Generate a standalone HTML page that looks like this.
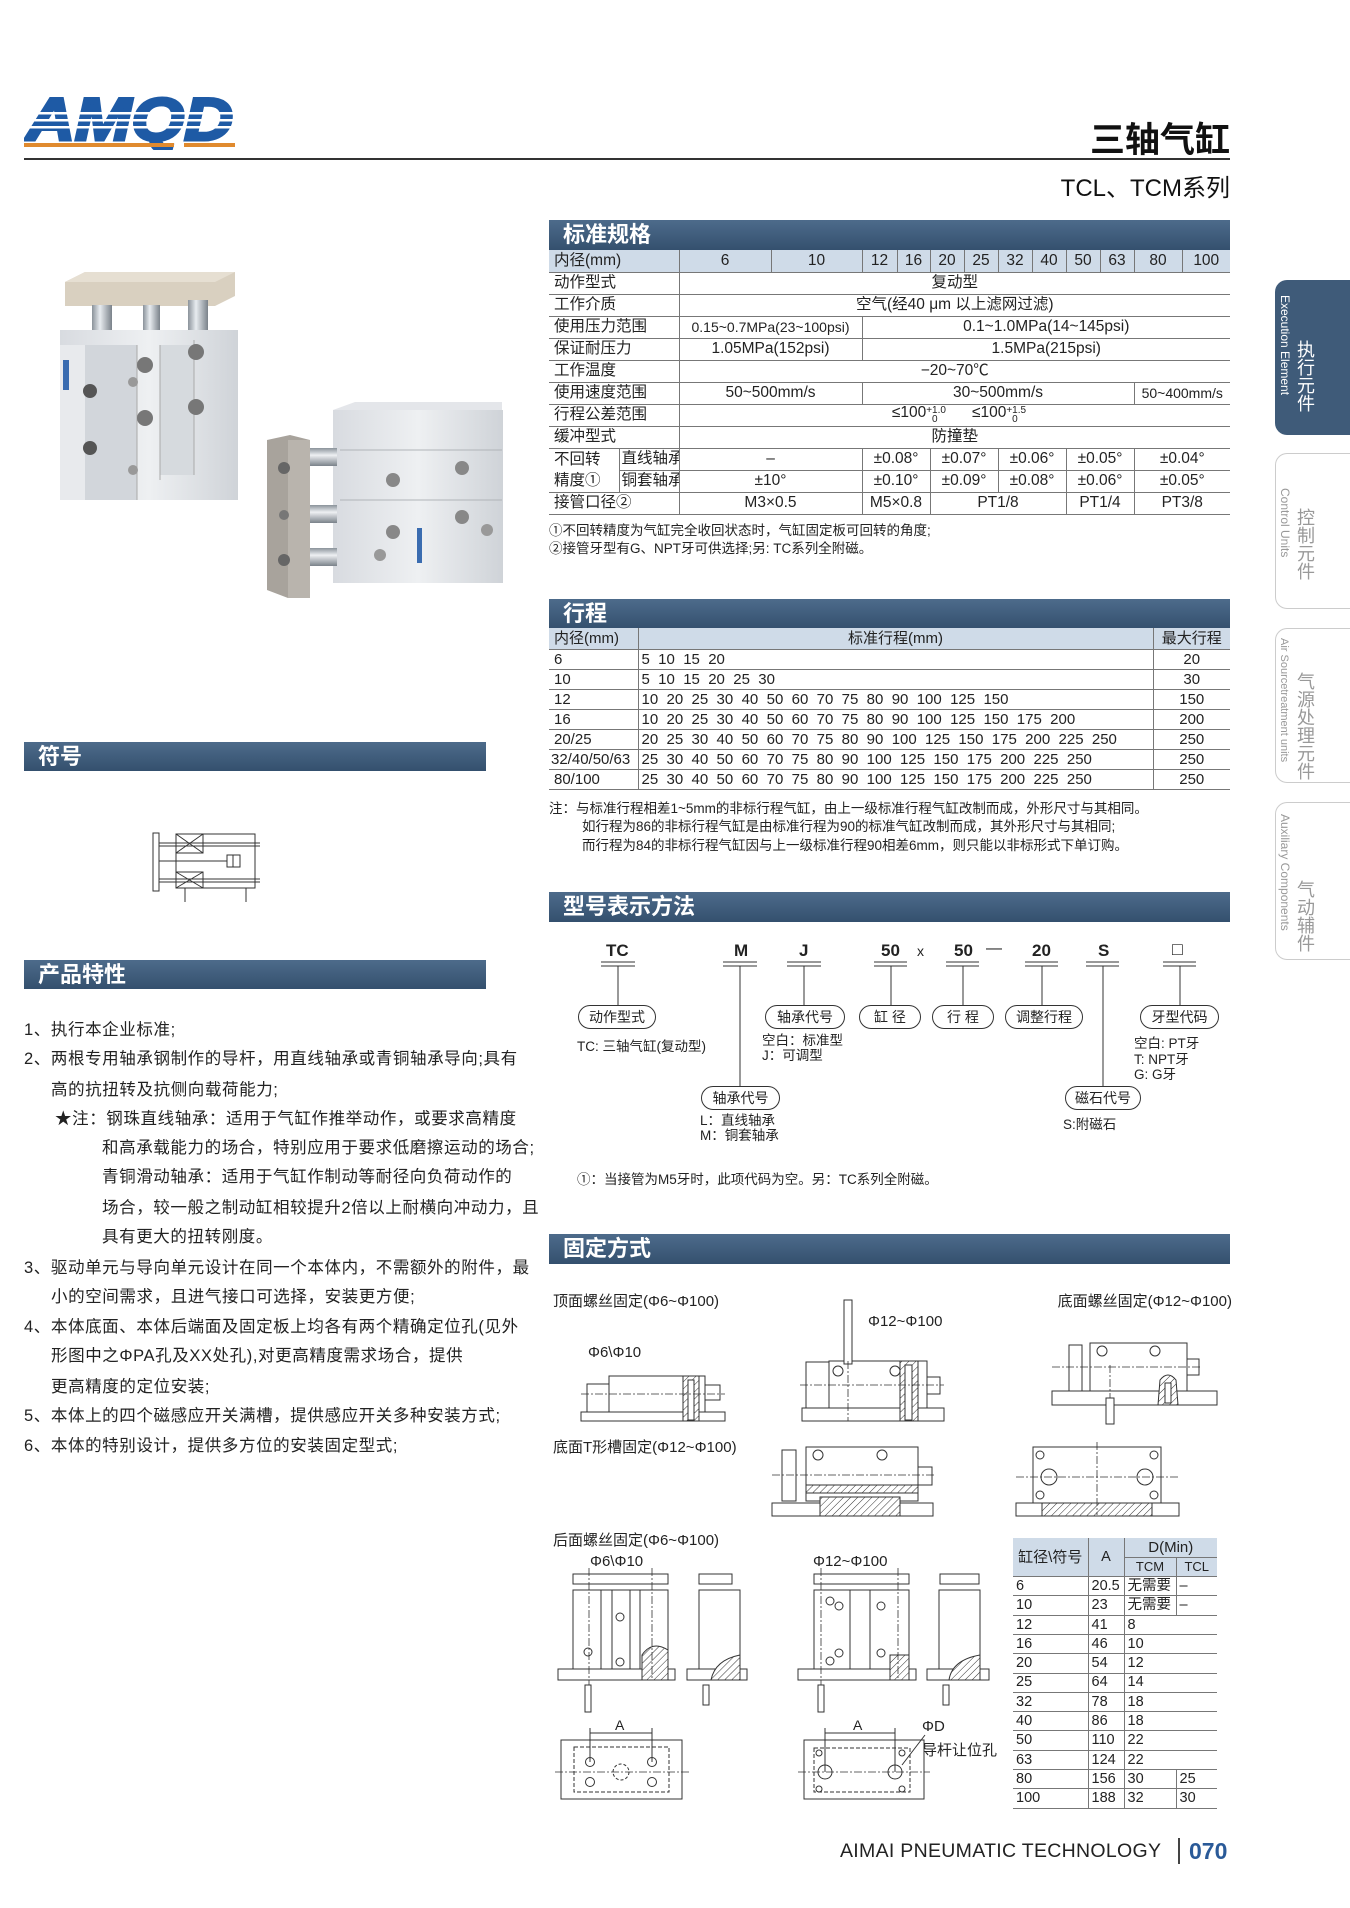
<!DOCTYPE html>
<html><head><meta charset="utf-8">
<style>
*{margin:0;padding:0;box-sizing:border-box}
body{width:1350px;height:1908px;background:#fff;position:relative;overflow:hidden;font-family:"Liberation Sans","Noto Sans CJK SC",sans-serif;color:#222}
.a{position:absolute;white-space:nowrap}
.bar{position:absolute;height:30px;background:linear-gradient(#4d6b8b,#34506e);color:#fff;font-weight:bold;font-size:22px;line-height:30px;padding-left:14px}
table{border-collapse:collapse;table-layout:fixed;position:absolute}
td{border-bottom:1px solid #777;border-left:1px solid #777;text-align:center;font-size:15.5px;padding:0;overflow:hidden;white-space:nowrap;line-height:1}
td.l{text-align:left;padding-left:5px;border-left:none}
tr.h td{background:#cfdbe8}
.t2 td{font-size:15px}
.t2 td.s{text-align:left;padding-left:3px}
.bub{position:absolute;height:24px;border:1px solid #333;border-radius:12px;font-size:14px;line-height:22px;text-align:center;background:#fff}
.ft{font-size:16.5px;letter-spacing:0.6px}
.sm{font-size:13.5px}
.tab{position:absolute;left:1275px;width:80px;border-radius:12px 0 0 12px}
.fx td{font-size:14.5px;height:19.3px;text-align:left;padding-left:3px;border-bottom:1px solid #777;border-left:1px solid #777}
.fx td.l{border-left:none}
.fx tr.h td{text-align:center;padding-left:0}
</style></head><body>

<svg class="a" style="left:24px;top:92px" width="215" height="58">
<text x="2" y="48" font-family="Liberation Sans" font-weight="bold" font-style="italic" font-size="60" fill="#1e5aa5" stroke="#1e5aa5" stroke-width="3" textLength="207" lengthAdjust="spacingAndGlyphs">AMQD</text>
<rect x="0" y="20" width="215" height="2.5" fill="#fff"/><rect x="0" y="27" width="215" height="2.5" fill="#fff"/><rect x="0" y="34" width="215" height="2.5" fill="#fff"/>
<rect x="0" y="51" width="150" height="4" fill="#e08a2e"/><rect x="160" y="51" width="51" height="4" fill="#e08a2e"/>
</svg>
<div class="a" style="left:24px;top:158px;width:1206px;height:2px;background:#333"></div>
<div class="a" style="right:120px;top:112px;font-size:35px;font-weight:bold;color:#111">三轴气缸</div>
<div class="a" style="right:120px;top:168px;font-size:24px;color:#111">TCL、TCM系列</div>

<div class="tab" style="top:280px;height:155px;background:#3f5b79"></div>
<div class="tab" style="top:453px;height:156px;border:1px solid #ccc;border-right:none"></div>
<div class="tab" style="top:628px;height:155px;border:1px solid #ccc;border-right:none"></div>
<div class="tab" style="top:802px;height:158px;border:1px solid #ccc;border-right:none"></div>
<div class="a" style="left:1278px;top:295px;writing-mode:vertical-rl;font-size:12px;color:#fff">Execution Element</div>
<div class="a" style="left:1295px;top:340px;writing-mode:vertical-rl;font-size:18px;color:#fff;line-height:20px">执行元件</div>
<div class="a" style="left:1278px;top:488px;writing-mode:vertical-rl;font-size:12px;color:#999">Control Units</div>
<div class="a" style="left:1295px;top:508px;writing-mode:vertical-rl;font-size:18px;color:#999;line-height:20px">控制元件</div>
<div class="a" style="left:1278px;top:638px;writing-mode:vertical-rl;font-size:11px;color:#999">Air Sourcetreatment units</div>
<div class="a" style="left:1295px;top:672px;writing-mode:vertical-rl;font-size:18px;color:#999;line-height:20px">气源处理元件</div>
<div class="a" style="left:1278px;top:814px;writing-mode:vertical-rl;font-size:12px;color:#999">Auxiliary Components</div>
<div class="a" style="left:1295px;top:880px;writing-mode:vertical-rl;font-size:18px;color:#999;line-height:20px">气动辅件</div>

<div class="bar" style="left:549px;top:220px;width:681px">标准规格</div>
<table style="left:549px;top:250px;width:681px">
<colgroup><col style="width:70px"><col style="width:60px"><col style="width:92px"><col style="width:91px"><col style="width:35px"><col style="width:33px"><col style="width:34px"><col style="width:34px"><col style="width:34px"><col style="width:34px"><col style="width:34px"><col style="width:34px"><col style="width:48px"><col style="width:48px"></colgroup>
<tr class="h" style="height:22px"><td class="l" colspan="2">内径(mm)</td><td>6</td><td>10</td><td>12</td><td>16</td><td>20</td><td>25</td><td>32</td><td>40</td><td>50</td><td>63</td><td>80</td><td>100</td></tr>
<tr style="height:22px"><td class="l" colspan="2">动作型式</td><td colspan="12">复动型</td></tr>
<tr style="height:22px"><td class="l" colspan="2">工作介质</td><td colspan="12">空气(经40 μm 以上滤网过滤)</td></tr>
<tr style="height:22px"><td class="l" colspan="2">使用压力范围</td><td colspan="2" style="font-size:14px">0.15~0.7MPa(23~100psi)</td><td colspan="10">0.1~1.0MPa(14~145psi)</td></tr>
<tr style="height:22px"><td class="l" colspan="2">保证耐压力</td><td colspan="2">1.05MPa(152psi)</td><td colspan="10">1.5MPa(215psi)</td></tr>
<tr style="height:22px"><td class="l" colspan="2">工作温度</td><td colspan="12">−20~70℃</td></tr>
<tr style="height:22px"><td class="l" colspan="2">使用速度范围</td><td colspan="2">50~500mm/s</td><td colspan="8">30~500mm/s</td><td colspan="2" style="font-size:14px">50~400mm/s</td></tr>
<tr style="height:22px"><td class="l" colspan="2">行程公差范围</td><td colspan="12">≤100<span style="font-size:10px;vertical-align:4px">+1.0</span><span style="font-size:10px;margin-left:-14px;vertical-align:-5px">0</span>&nbsp;&nbsp;&nbsp;&nbsp;&nbsp;&nbsp;&nbsp;&nbsp;≤100<span style="font-size:10px;vertical-align:4px">+1.5</span><span style="font-size:10px;margin-left:-14px;vertical-align:-5px">0</span></td></tr>
<tr style="height:22px"><td class="l" colspan="2">缓冲型式</td><td colspan="12">防撞垫</td></tr>
<tr style="height:22px"><td class="l" style="border-bottom:none">不回转</td><td class="l" style="border-left:1px solid #777;padding-left:2px">直线轴承</td><td colspan="2">–</td><td colspan="2">±0.08°</td><td colspan="2">±0.07°</td><td colspan="2">±0.06°</td><td colspan="2">±0.05°</td><td colspan="2">±0.04°</td></tr>
<tr style="height:22px"><td class="l">精度①</td><td class="l" style="border-left:1px solid #777;padding-left:2px">铜套轴承</td><td colspan="2">±10°</td><td colspan="2">±0.10°</td><td colspan="2">±0.09°</td><td colspan="2">±0.08°</td><td colspan="2">±0.06°</td><td colspan="2">±0.05°</td></tr>
<tr style="height:22px"><td class="l" colspan="2">接管口径②</td><td colspan="2">M3×0.5</td><td colspan="2">M5×0.8</td><td colspan="4">PT1/8</td><td colspan="2">PT1/4</td><td colspan="2">PT3/8</td></tr>
</table>
<div class="a sm" style="left:549px;top:519px">①不回转精度为气缸完全收回状态时，气缸固定板可回转的角度;</div>
<div class="a sm" style="left:549px;top:537px">②接管牙型有G、NPT牙可供选择;另: TC系列全附磁。</div>

<div class="bar" style="left:549px;top:599px;width:681px">行程</div>
<table class="t2" style="left:549px;top:628px;width:681px">
<colgroup><col style="width:89px"><col style="width:515px"><col style="width:77px"></colgroup>
<tr class="h" style="height:21px"><td class="l">内径(mm)</td><td>标准行程(mm)</td><td>最大行程</td></tr>
<tr style="height:20px"><td class="l">6</td><td class="s">5&nbsp; 10&nbsp; 15&nbsp; 20</td><td>20</td></tr>
<tr style="height:20px"><td class="l">10</td><td class="s">5&nbsp; 10&nbsp; 15&nbsp; 20&nbsp; 25&nbsp; 30</td><td>30</td></tr>
<tr style="height:20px"><td class="l">12</td><td class="s">10&nbsp; 20&nbsp; 25&nbsp; 30&nbsp; 40&nbsp; 50&nbsp; 60&nbsp; 70&nbsp; 75&nbsp; 80&nbsp; 90&nbsp; 100&nbsp; 125&nbsp; 150</td><td>150</td></tr>
<tr style="height:20px"><td class="l">16</td><td class="s">10&nbsp; 20&nbsp; 25&nbsp; 30&nbsp; 40&nbsp; 50&nbsp; 60&nbsp; 70&nbsp; 75&nbsp; 80&nbsp; 90&nbsp; 100&nbsp; 125&nbsp; 150&nbsp; 175&nbsp; 200</td><td>200</td></tr>
<tr style="height:20px"><td class="l">20/25</td><td class="s">20&nbsp; 25&nbsp; 30&nbsp; 40&nbsp; 50&nbsp; 60&nbsp; 70&nbsp; 75&nbsp; 80&nbsp; 90&nbsp; 100&nbsp; 125&nbsp; 150&nbsp; 175&nbsp; 200&nbsp; 225&nbsp; 250</td><td>250</td></tr>
<tr style="height:20px"><td class="l" style="padding-left:2px">32/40/50/63</td><td class="s">25&nbsp; 30&nbsp; 40&nbsp; 50&nbsp; 60&nbsp; 70&nbsp; 75&nbsp; 80&nbsp; 90&nbsp; 100&nbsp; 125&nbsp; 150&nbsp; 175&nbsp; 200&nbsp; 225&nbsp; 250</td><td>250</td></tr>
<tr style="height:20px"><td class="l">80/100</td><td class="s">25&nbsp; 30&nbsp; 40&nbsp; 50&nbsp; 60&nbsp; 70&nbsp; 75&nbsp; 80&nbsp; 90&nbsp; 100&nbsp; 125&nbsp; 150&nbsp; 175&nbsp; 200&nbsp; 225&nbsp; 250</td><td>250</td></tr>
</table>
<div class="a sm" style="left:549px;top:797px">注：与标准行程相差1~5mm的非标行程气缸，由上一级标准行程气缸改制而成，外形尺寸与其相同。</div>
<div class="a sm" style="left:582px;top:815px">如行程为86的非标行程气缸是由标准行程为90的标准气缸改制而成，其外形尺寸与其相同;</div>
<div class="a sm" style="left:582px;top:834px">而行程为84的非标行程气缸因与上一级标准行程90相差6mm，则只能以非标形式下单订购。</div>

<div class="bar" style="left:549px;top:892px;width:681px">型号表示方法</div>
<div class="a" style="font-weight:bold;font-size:17px;left:606px;top:941px">TC</div>
<div class="a" style="font-weight:bold;font-size:17px;left:734px;top:941px">M</div>
<div class="a" style="font-weight:bold;font-size:17px;left:799px;top:941px">J</div>
<div class="a" style="font-weight:bold;font-size:17px;left:881px;top:941px">50</div>
<div class="a" style="font-size:14px;left:917px;top:943px">x</div>
<div class="a" style="font-weight:bold;font-size:17px;left:954px;top:941px">50</div>
<div class="a" style="font-size:16px;left:986px;top:940px">—</div>
<div class="a" style="font-weight:bold;font-size:17px;left:1032px;top:941px">20</div>
<div class="a" style="font-weight:bold;font-size:17px;left:1098px;top:941px">S</div>
<div class="a" style="font-size:18px;left:1172px;top:939px">□</div>
<div class="bub" style="left:578px;top:1005px;width:78px">动作型式</div>
<div class="bub" style="left:765px;top:1005px;width:80px">轴承代号</div>
<div class="bub" style="left:859px;top:1005px;width:62px">缸 径</div>
<div class="bub" style="left:932px;top:1005px;width:62px">行 程</div>
<div class="bub" style="left:1005px;top:1005px;width:78px">调整行程</div>
<div class="bub" style="left:1140px;top:1005px;width:79px">牙型代码</div>
<div class="bub" style="left:701px;top:1086px;width:79px">轴承代号</div>
<div class="bub" style="left:1065px;top:1086px;width:76px">磁石代号</div>
<div class="a sm" style="left:577px;top:1035px">TC: 三轴气缸(复动型)</div>
<div class="a sm" style="left:762px;top:1033px;line-height:15px">空白：标准型<br>J：可调型</div>
<div class="a sm" style="left:700px;top:1113px;line-height:15px">L：直线轴承<br>M：铜套轴承</div>
<div class="a sm" style="left:1063px;top:1113px">S:附磁石</div>
<div class="a sm" style="left:1134px;top:1036px;line-height:15.5px">空白: PT牙<br>T: NPT牙<br>G: G牙</div>
<div class="a sm" style="left:577px;top:1168px">①：当接管为M5牙时，此项代码为空。另：TC系列全附磁。</div>

<div class="bar" style="left:549px;top:1234px;width:681px">固定方式</div>
<div class="a" style="left:553px;top:1290px;font-size:15px">顶面螺丝固定(Φ6~Φ100)</div>
<div class="a" style="right:118px;top:1290px;font-size:15px">底面螺丝固定(Φ12~Φ100)</div>
<div class="a" style="left:588px;top:1344px;font-size:15px">Φ6\Φ10</div>
<div class="a" style="left:868px;top:1313px;font-size:15px">Φ12~Φ100</div>
<div class="a" style="left:553px;top:1436px;font-size:15px">底面T形槽固定(Φ12~Φ100)</div>
<div class="a" style="left:553px;top:1529px;font-size:15px">后面螺丝固定(Φ6~Φ100)</div>
<div class="a" style="left:590px;top:1553px;font-size:15px">Φ6\Φ10</div>
<div class="a" style="left:813px;top:1553px;font-size:15px">Φ12~Φ100</div>
<div class="a" style="left:922px;top:1718px;font-size:15px">ΦD</div>
<div class="a" style="left:922px;top:1739px;font-size:15px">导杆让位孔</div>
<div class="a" style="left:615px;top:1717px;font-size:14px">A</div>
<div class="a" style="left:853px;top:1717px;font-size:14px">A</div>

<table class="fx" style="left:1013px;top:1538px;width:204px">
<colgroup><col style="width:75px"><col style="width:36px"><col style="width:52px"><col style="width:41px"></colgroup>
<tr class="h" style="height:19px"><td class="l" rowspan="2" style="font-size:15px">缸径\符号</td><td rowspan="2">A</td><td colspan="2" style="font-size:15px">D(Min)</td></tr>
<tr class="h" style="height:19px"><td style="font-size:13px">TCM</td><td style="font-size:13px">TCL</td></tr>
<tr><td class="l">6</td><td>20.5</td><td>无需要</td><td>–</td></tr>
<tr><td class="l">10</td><td>23</td><td>无需要</td><td>–</td></tr>
<tr><td class="l">12</td><td>41</td><td colspan="2">8</td></tr>
<tr><td class="l">16</td><td>46</td><td colspan="2">10</td></tr>
<tr><td class="l">20</td><td>54</td><td colspan="2">12</td></tr>
<tr><td class="l">25</td><td>64</td><td colspan="2">14</td></tr>
<tr><td class="l">32</td><td>78</td><td colspan="2">18</td></tr>
<tr><td class="l">40</td><td>86</td><td colspan="2">18</td></tr>
<tr><td class="l">50</td><td>110</td><td colspan="2">22</td></tr>
<tr><td class="l">63</td><td>124</td><td colspan="2">22</td></tr>
<tr><td class="l">80</td><td>156</td><td>30</td><td>25</td></tr>
<tr><td class="l">100</td><td>188</td><td>32</td><td>30</td></tr>
</table>

<div class="bar" style="left:24px;top:742px;width:462px;height:29px;line-height:29px">符号</div>
<div class="bar" style="left:24px;top:960px;width:462px;height:29px;line-height:29px">产品特性</div>
<div class="a ft" style="left:24px;top:1016px">1、执行本企业标准;</div>
<div class="a ft" style="left:24px;top:1045px">2、两根专用轴承钢制作的导杆，用直线轴承或青铜轴承导向;具有</div>
<div class="a ft" style="left:51px;top:1076px">高的抗扭转及抗侧向载荷能力;</div>
<div class="a ft" style="left:55px;top:1105px">★注：钢珠直线轴承：适用于气缸作推举动作，或要求高精度</div>
<div class="a ft" style="left:102px;top:1134px">和高承载能力的场合，特别应用于要求低磨擦运动的场合;</div>
<div class="a ft" style="left:102px;top:1163px">青铜滑动轴承：适用于气缸作制动等耐径向负荷动作的</div>
<div class="a ft" style="left:102px;top:1194px">场合，较一般之制动缸相较提升2倍以上耐横向冲动力，且</div>
<div class="a ft" style="left:102px;top:1223px">具有更大的扭转刚度。</div>
<div class="a ft" style="left:24px;top:1254px">3、驱动单元与导向单元设计在同一个本体内，不需额外的附件，最</div>
<div class="a ft" style="left:51px;top:1283px">小的空间需求，且进气接口可选择，安装更方便;</div>
<div class="a ft" style="left:24px;top:1313px">4、本体底面、本体后端面及固定板上均各有两个精确定位孔(见外</div>
<div class="a ft" style="left:51px;top:1342px">形图中之ΦPA孔及XX处孔),对更高精度需求场合，提供</div>
<div class="a ft" style="left:51px;top:1373px">更高精度的定位安装;</div>
<div class="a ft" style="left:24px;top:1402px">5、本体上的四个磁感应开关满槽，提供感应开关多种安装方式;</div>
<div class="a ft" style="left:24px;top:1432px">6、本体的特别设计，提供多方位的安装固定型式;</div>

<div class="a" style="left:840px;top:1840px;font-size:19.5px;color:#222;letter-spacing:0.3px">AIMAI PNEUMATIC TECHNOLOGY</div>
<div class="a" style="left:1178px;top:1838px;width:1.5px;height:26px;background:#444"></div>
<div class="a" style="left:1189px;top:1838px;font-size:23px;font-weight:bold;color:#2a5a98">070</div>

<svg class="a" style="left:0;top:0" width="1350" height="1908">
<defs>
<pattern id="hh" width="5" height="5" patternUnits="userSpaceOnUse" patternTransform="rotate(45)"><rect width="5" height="5" fill="#fff"/><line x1="0" y1="0" x2="0" y2="5" stroke="#333" stroke-width="1"/></pattern>
<linearGradient id="rod" x1="0" y1="0" x2="1" y2="0"><stop offset="0" stop-color="#8a929a"/><stop offset=".4" stop-color="#e8ecf0"/><stop offset="1" stop-color="#7a828a"/></linearGradient>
<linearGradient id="rodh" x1="0" y1="0" x2="0" y2="1"><stop offset="0" stop-color="#8a929a"/><stop offset=".4" stop-color="#eef0f3"/><stop offset="1" stop-color="#7a828a"/></linearGradient>
<linearGradient id="alu" x1="0" y1="0" x2="1" y2="0"><stop offset="0" stop-color="#d8dbe0"/><stop offset=".5" stop-color="#eef0f2"/><stop offset="1" stop-color="#cfd3d8"/></linearGradient>
</defs>

<polygon points="65,282 85,272 235,272 235,296 215,306 65,306" fill="#d9d0c0"/>
<polygon points="65,282 85,272 235,272 215,282" fill="#e6dfd2"/>
<rect x="92" y="305" width="20" height="35" fill="url(#rod)"/>
<rect x="143" y="305" width="17" height="30" fill="url(#rod)"/>
<rect x="188" y="300" width="20" height="35" fill="url(#rod)"/>
<rect x="60" y="330" width="178" height="170" fill="url(#alu)"/>
<rect x="60" y="345" width="25" height="155" fill="#e8eaed"/>
<rect x="85" y="345" width="52" height="155" fill="#d2d6db"/>
<rect x="160" y="345" width="34" height="130" fill="#d6dade"/>
<line x1="137" y1="345" x2="137" y2="500" stroke="#aaa"/><line x1="160" y1="345" x2="160" y2="480" stroke="#aaa"/><line x1="194" y1="340" x2="194" y2="475" stroke="#aaa"/>
<circle cx="90" cy="391" r="7" fill="#555"/><circle cx="90" cy="448" r="7" fill="#555"/>
<circle cx="145" cy="365" r="8" fill="#777"/><circle cx="145" cy="418" r="8" fill="#777"/><circle cx="133" cy="382" r="5" fill="#999"/><circle cx="133" cy="470" r="5" fill="#999"/>
<circle cx="196" cy="352" r="8" fill="#777"/><circle cx="196" cy="407" r="8" fill="#777"/>
<rect x="63" y="360" width="6" height="30" fill="#3a6cb0"/>
<rect x="333" y="410" width="170" height="173" fill="url(#alu)"/>
<polygon points="333,410 355,402 502,402 502,410" fill="#e4e6ea"/>
<line x1="340" y1="450" x2="502" y2="450" stroke="#b0b4b8"/><line x1="340" y1="500" x2="502" y2="500" stroke="#b0b4b8"/>
<circle cx="393" cy="480" r="7" fill="#888"/><circle cx="462" cy="468" r="7" fill="#888"/><circle cx="393" cy="532" r="7" fill="#888"/><circle cx="462" cy="517" r="7" fill="#888"/><circle cx="380" cy="555" r="6" fill="#999"/><circle cx="487" cy="530" r="6" fill="#999"/>
<rect x="305" y="448" width="32" height="18" fill="url(#rodh)"/>
<rect x="305" y="505" width="32" height="18" fill="url(#rodh)"/>
<rect x="305" y="548" width="32" height="18" fill="url(#rodh)"/>
<polygon points="267,440 290,435 310,440 310,598 288,598 267,590" fill="#a8a39c"/>
<rect x="288" y="440" width="22" height="158" fill="#b9b4ad"/>
<circle cx="284" cy="468" r="6" fill="#666"/><circle cx="284" cy="515" r="5" fill="#777"/><circle cx="284" cy="560" r="6" fill="#666"/>
<rect x="417" y="528" width="5" height="35" fill="#3a6cb0"/>

<g stroke="#333" stroke-width="1" fill="none">
<rect x="153" y="833" width="6" height="58"/>
<rect x="176" y="834" width="79" height="54"/>
<rect x="176" y="834" width="27" height="19"/><line x1="176" y1="834" x2="203" y2="853"/><line x1="203" y1="834" x2="176" y2="853"/>
<rect x="176" y="872" width="27" height="16"/><line x1="176" y1="872" x2="203" y2="888"/><line x1="203" y1="872" x2="176" y2="888"/>
<line x1="159" y1="843" x2="260" y2="843"/><line x1="159" y1="846" x2="260" y2="846"/>
<line x1="159" y1="879" x2="260" y2="879"/><line x1="159" y1="882" x2="260" y2="882"/>
<line x1="159" y1="861" x2="227" y2="861"/><rect x="227" y="855" width="13" height="12"/><line x1="233" y1="855" x2="233" y2="867"/>
<line x1="185" y1="888" x2="185" y2="902"/><line x1="246" y1="888" x2="246" y2="902"/>
</g>

<g stroke="#333" stroke-width="1">
<line x1="601" y1="962" x2="635" y2="962"/><line x1="601" y1="966" x2="635" y2="966"/><line x1="618" y1="966" x2="618" y2="1005"/>
<line x1="723" y1="962" x2="757" y2="962"/><line x1="723" y1="966" x2="757" y2="966"/><line x1="740" y1="966" x2="740" y2="1086"/>
<line x1="787" y1="962" x2="821" y2="962"/><line x1="787" y1="966" x2="821" y2="966"/><line x1="804" y1="966" x2="804" y2="1005"/>
<line x1="874" y1="962" x2="907" y2="962"/><line x1="874" y1="966" x2="907" y2="966"/><line x1="891" y1="966" x2="891" y2="1005"/>
<line x1="946" y1="962" x2="979" y2="962"/><line x1="946" y1="966" x2="979" y2="966"/><line x1="963" y1="966" x2="963" y2="1005"/>
<line x1="1025" y1="962" x2="1058" y2="962"/><line x1="1025" y1="966" x2="1058" y2="966"/><line x1="1042" y1="966" x2="1042" y2="1005"/>
<line x1="1086" y1="962" x2="1119" y2="962"/><line x1="1086" y1="966" x2="1119" y2="966"/><line x1="1103" y1="966" x2="1103" y2="1086"/>
<line x1="1163" y1="962" x2="1196" y2="962"/><line x1="1163" y1="966" x2="1196" y2="966"/><line x1="1180" y1="966" x2="1180" y2="1005"/>
</g>

<g stroke="#333" stroke-width="1" fill="#fff">
<rect x="581" y="1412" width="144" height="9"/>
<rect x="587" y="1384" width="22" height="28"/>
<rect x="609" y="1376" width="96" height="36"/>
<rect x="705" y="1385" width="15" height="15"/>
<rect x="683" y="1376" width="16" height="45" fill="url(#hh)"/>
<rect x="688" y="1380" width="6" height="40"/>
<rect x="802" y="1408" width="142" height="13"/>
<rect x="806" y="1362" width="23" height="46"/>
<rect x="829" y="1361" width="98" height="47"/>
<rect x="927" y="1377" width="13" height="17"/>
<rect x="900" y="1361" width="18" height="60" fill="url(#hh)"/>
<rect x="905" y="1365" width="7" height="55"/>
<rect x="844" y="1300" width="8" height="64"/>
<circle cx="838" cy="1371" r="5"/><circle cx="895" cy="1371" r="5"/>
<rect x="1052" y="1391" width="165" height="14"/>
<rect x="1069" y="1345" width="13" height="46"/>
<rect x="1090" y="1343" width="97" height="48"/>
<rect x="1187" y="1359" width="12" height="16"/>
<path d="M1158,1405 L1160,1380 Q1168,1370 1176,1380 L1178,1405 Z" fill="url(#hh)"/>
<rect x="1165" y="1383" width="6" height="20"/>
<rect x="1106" y="1398" width="8" height="26"/>
<circle cx="1102" cy="1351" r="5"/><circle cx="1155" cy="1351" r="5"/>
<rect x="772" y="1503" width="161" height="13"/>
<rect x="782" y="1450" width="14" height="51"/>
<rect x="806" y="1447" width="112" height="54"/>
<rect x="918" y="1467" width="14" height="18"/>
<rect x="806" y="1485" width="112" height="8" fill="url(#hh)"/>
<rect x="820" y="1497" width="80" height="19" fill="url(#hh)"/>
<circle cx="818" cy="1455" r="5"/><circle cx="882" cy="1455" r="5"/>
<rect x="1016" y="1503" width="163" height="13"/>
<rect x="1033" y="1447" width="128" height="56"/>
<rect x="1042" y="1503" width="110" height="13" fill="url(#hh)"/>
<circle cx="1049" cy="1477" r="8"/><circle cx="1145" cy="1477" r="8"/>
<circle cx="1040" cy="1455" r="4"/><circle cx="1154" cy="1455" r="4"/><circle cx="1040" cy="1495" r="4"/><circle cx="1154" cy="1495" r="4"/>
<rect x="573" y="1574" width="95" height="10"/>
<rect x="573" y="1590" width="95" height="79"/>
<line x1="601" y1="1590" x2="601" y2="1669"/><line x1="612" y1="1590" x2="612" y2="1669"/><line x1="630" y1="1590" x2="630" y2="1669"/><line x1="640" y1="1590" x2="640" y2="1669"/>
<rect x="558" y="1669" width="117" height="11"/>
<path d="M642,1680 L642,1655 Q652,1640 668,1650 L668,1680Z" fill="url(#hh)"/>
<circle cx="620" cy="1617" r="4"/><circle cx="620" cy="1662" r="4"/><circle cx="588" cy="1652" r="4"/>
<rect x="585" y="1685" width="6" height="27"/>
<rect x="699" y="1574" width="33" height="10"/>
<rect x="699" y="1590" width="41" height="79"/>
<rect x="687" y="1669" width="60" height="11"/>
<path d="M711,1680 Q715,1660 740,1655 L740,1680Z" fill="url(#hh)"/>
<rect x="703" y="1685" width="6" height="20"/>
<rect x="814" y="1574" width="95" height="10"/>
<rect x="814" y="1590" width="95" height="79"/>
<line x1="850" y1="1590" x2="850" y2="1669"/><line x1="870" y1="1590" x2="870" y2="1669"/>
<rect x="798" y="1669" width="118" height="11"/>
<rect x="890" y="1655" width="19" height="25" fill="url(#hh)"/>
<circle cx="830" cy="1601" r="4"/><circle cx="839" cy="1606" r="4"/><circle cx="881" cy="1606" r="4"/><circle cx="881" cy="1653" r="4"/><circle cx="839" cy="1653" r="4"/><circle cx="830" cy="1661" r="4"/>
<rect x="818" y="1685" width="6" height="27"/>
<rect x="940" y="1574" width="39" height="10"/>
<rect x="939" y="1590" width="41" height="79"/>
<rect x="927" y="1669" width="62" height="11"/>
<path d="M949,1680 Q952,1660 980,1655 L980,1680Z" fill="url(#hh)"/>
<rect x="943" y="1685" width="6" height="20"/>
<rect x="561" y="1740" width="121" height="59"/>
<rect x="574" y="1747" width="95" height="45" stroke-dasharray="4,2" fill="none"/>
<circle cx="590" cy="1762" r="4.5"/><circle cx="652" cy="1762" r="4.5"/><circle cx="590" cy="1782" r="4.5"/><circle cx="652" cy="1782" r="4.5"/>
<circle cx="621" cy="1772" r="8" stroke-dasharray="3,2"/>
<rect x="804" y="1740" width="120" height="59"/>
<rect x="814" y="1748" width="96" height="44" stroke-dasharray="4,2" fill="none"/>
<circle cx="825" cy="1772" r="7"/><circle cx="895" cy="1772" r="7"/>
<circle cx="819" cy="1753" r="3"/><circle cx="902" cy="1753" r="3"/><circle cx="819" cy="1789" r="3"/><circle cx="902" cy="1789" r="3"/>
</g>
<g stroke="#333" stroke-width="0.8" stroke-dasharray="8,2,2,2" fill="none">
<line x1="581" y1="1394" x2="725" y2="1394"/><line x1="800" y1="1385" x2="944" y2="1385"/><line x1="1052" y1="1367" x2="1200" y2="1367"/>
<line x1="772" y1="1475" x2="935" y2="1475"/><line x1="1016" y1="1477" x2="1179" y2="1477"/><line x1="1097" y1="1442" x2="1097" y2="1515"/>
<line x1="848" y1="1361" x2="848" y2="1421"/><line x1="1110" y1="1365" x2="1110" y2="1398"/>
<line x1="589" y1="1568" x2="589" y2="1685"/><line x1="652" y1="1568" x2="652" y2="1680"/>
<line x1="821" y1="1568" x2="821" y2="1685"/><line x1="898" y1="1568" x2="898" y2="1680"/>
<line x1="555" y1="1772" x2="690" y2="1772"/><line x1="798" y1="1772" x2="930" y2="1772"/>
</g>
<g stroke="#333" stroke-width="1">
<line x1="590" y1="1733" x2="652" y2="1733"/><line x1="590" y1="1728" x2="590" y2="1762"/><line x1="652" y1="1728" x2="652" y2="1762"/>
<line x1="825" y1="1733" x2="895" y2="1733"/><line x1="825" y1="1728" x2="825" y2="1772"/><line x1="895" y1="1728" x2="895" y2="1772"/>
<line x1="902" y1="1765" x2="925" y2="1735"/>
</g>
</svg>
</body></html>
